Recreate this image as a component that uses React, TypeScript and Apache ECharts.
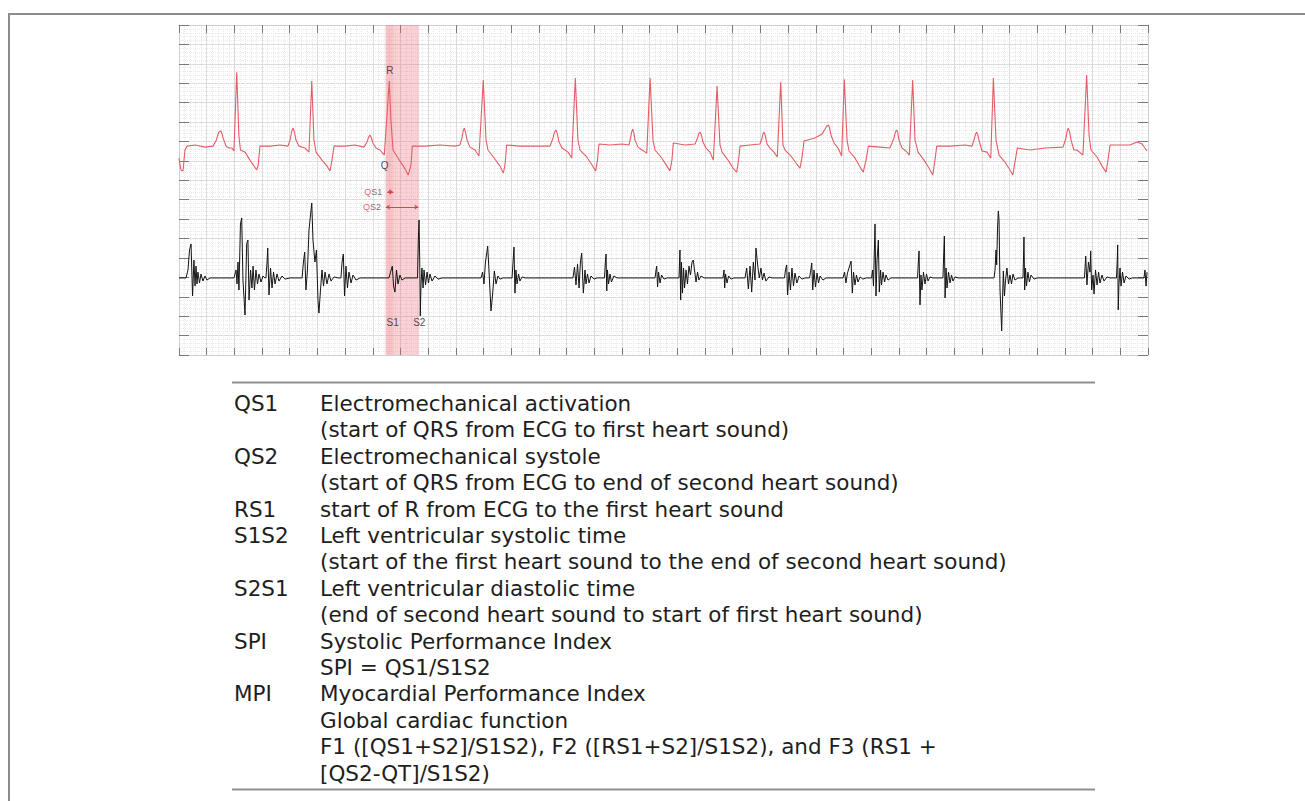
import React, { useEffect, useRef } from "react";
import * as echarts from "echarts";

// ---- chart scale: time in ms (200 ms per major division), amplitude in mm (10 mm per major division)
const X_MAX = 7000;
const X_STEP = 200;
const Y_MAX = 170;
const Y_STEP = 10;

// ---- ECG trace (red), [ms, mm], read beat by beat
const ecgBeats: number[][][] = [
  [[0,101.5],[14,95.3],[29,94.8],[43,105.6],[58,107.6],[116,108.2],[188,107.1],[246,107.6]],
  [[267,110.2],[280,113.3],[289,114.9],[303,115.4],[312,113.8],[318,111.8],[340,107.6],[361,106.6],[383,106.6],[397,105.1],[417,145.7],[433,112.8],[444,105.6],[477,104.5],[513,100.4],[542,97.3],[561,95.3],[571,97.3],[585,107.6],[657,107.6],[730,108.2],[787,107.6]],
  [[802,110.7],[815,115.4],[824,116.9],[834,114.8],[845,110.7],[867,107.6],[910,106.6],[939,104.5],[959,141.1],[975,110.7],[990,104.5],[1033,100.4],[1069,97.3],[1091,94.8],[1105,100.4],[1120,107.6],[1199,107.6],[1271,108.2],[1336,107.1]],
  [[1358,109.7],[1370,112.3],[1380,113.3],[1390,111.8],[1401,109.2],[1423,106.6],[1452,105.6],[1483,103.0],[1519,141.1],[1531,121.0],[1546,105.6],[1582,101.5],[1625,96.8],[1656,92.7],[1676,97.9],[1685,107.6],[1777,107.6],[1885,108.2],[1994,107.6],[2030,108.2]],
  [[2044,111.8],[2053,115.4],[2061,116.9],[2071,114.3],[2081,110.7],[2102,107.1],[2138,105.6],[2167,102.5],[2198,141.6],[2218,110.7],[2232,105.6],[2276,101.5],[2319,97.3],[2343,93.7],[2355,97.9],[2367,108.2],[2463,107.6],[2572,107.6],[2680,107.6]],
  [[2702,111.8],[2713,114.8],[2723,115.9],[2734,113.8],[2745,109.7],[2767,106.6],[2810,104.5],[2837,101.5],[2863,142.7],[2882,110.7],[2897,105.6],[2940,102.5],[2984,97.9],[3010,94.8],[3023,100.4],[3034,108.7],[3114,108.2],[3200,108.7],[3251,108.2]],
  [[3262,111.8],[3270,114.8],[3278,116.4],[3286,114.3],[3294,110.7],[3316,107.1],[3345,105.6],[3379,104.0],[3403,142.7],[3424,110.7],[3439,105.6],[3482,102.0],[3525,97.3],[3547,94.8],[3561,100.4],[3571,109.2],[3655,108.2],[3728,108.7]],
  [[3746,111.8],[3755,114.0],[3764,114.8],[3774,113.3],[3785,109.7],[3807,106.6],[3836,104.5],[3860,100.4],[3887,138.5],[3908,108.2],[3923,104.5],[3966,100.4],[4002,96.3],[4029,94.2],[4042,100.4],[4053,107.6],[4125,108.2],[4197,108.7]],
  [[4212,111.8],[4219,114.0],[4226,114.8],[4236,112.8],[4248,108.7],[4269,106.6],[4298,104.5],[4322,102.0],[4347,140.6],[4363,108.2],[4378,105.6],[4421,102.5],[4457,98.9],[4486,96.3],[4500,101.5],[4515,110.2],[4594,111.8],[4645,113.8]],
  [[4667,116.4],[4680,118.0],[4691,118.5],[4700,116.9],[4710,113.3],[4732,109.2],[4761,106.6],[4787,102.5],[4806,142.1],[4826,110.7],[4840,105.1],[4883,101.5],[4920,96.8],[4943,94.2],[4963,100.4],[4980,107.6],[5064,107.1],[5136,106.6]],
  [[5165,111.8],[5175,114.8],[5185,115.9],[5193,114.3],[5201,110.7],[5223,106.6],[5252,105.1],[5276,103.0],[5300,141.6],[5317,110.7],[5339,104.5],[5382,100.4],[5418,96.3],[5445,92.7],[5461,100.4],[5474,107.6],[5570,107.6],[5678,108.2],[5729,107.6]],
  [[5747,111.8],[5755,114.0],[5763,114.8],[5771,113.3],[5779,110.7],[5801,105.1],[5837,104.5],[5864,101.5],[5883,142.7],[5902,110.7],[5924,103.0],[5967,99.4],[6003,95.3],[6023,92.7],[6039,99.4],[6056,106.6],[6148,105.6],[6256,106.6],[6386,107.1]],
  [[6408,111.8],[6416,115.4],[6424,116.9],[6434,114.8],[6444,110.7],[6465,105.6],[6487,105.6],[6530,103.0],[6557,144.2],[6574,113.3],[6588,105.6],[6632,102.0],[6668,97.3],[6697,94.2],[6711,100.4],[6726,108.2],[6798,108.2],[6870,108.2],[6921,109.7],[6957,108.7],[6993,105.1]],
];

// ---- Phonocardiogram (black), [ms, mm], one list per heart-sound burst
const pcgBursts: number[][][] = [
  [[0,39.7]],
  [[51,39.7],[65,43.8],[76,54.1],[87,57.2],[98,30.4],[108,48.9],[116,35.5],[123,45.8],[130,36.6],[137,42.7],[148,37.1],[159,41.7],[173,38.1],[188,40.7],[202,38.6],[224,39.7]],
  [[397,39.7],[412,43.8],[419,36.6],[426,47.9],[433,33.5],[444,67.5],[453,70.6],[462,38.6],[477,20.6],[489,57.2],[498,59.2],[506,28.3],[517,43.8],[527,34.5],[535,45.8],[545,33.5],[556,43.8],[567,36.6],[578,41.7],[592,37.6],[607,40.7],[621,39.7]],
  [[628,39.7],[636,47.9],[641,55.1],[650,30.9],[661,44.8],[672,34.5],[683,42.7],[694,36.6],[708,41.7],[722,38.1],[744,40.7],[766,39.1],[802,39.7]],
  [[889,39.7],[899,47.9],[908,53.0],[917,33.5],[928,43.8],[939,64.4],[950,72.1],[959,78.3],[968,59.2],[982,47.9],[993,54.1],[1004,28.3],[1011,21.6],[1022,33.5],[1033,43.8],[1044,35.5],[1055,42.7],[1069,36.6],[1084,41.7],[1098,38.1],[1120,40.2],[1149,39.7]],
  [[1170,39.7],[1178,47.9],[1187,52.0],[1196,30.4],[1206,45.8],[1217,34.5],[1228,42.7],[1243,37.1],[1257,41.2],[1279,38.6],[1308,39.7]],
  [[1517,39.7],[1528,42.7],[1541,45.8],[1550,35.5],[1560,32.4],[1571,43.8],[1582,36.6],[1596,41.2],[1611,38.6],[1633,39.7]],
  [[1723,39.7],[1729,59.2],[1734,69.5],[1739,48.9],[1743,20.1],[1748,36.1],[1755,44.8],[1763,34.5],[1770,43.8],[1781,36.1],[1792,42.7],[1802,37.1],[1813,41.7],[1828,38.1],[1849,40.7],[1871,39.1],[1900,39.7]],
  [[2182,39.7],[2193,42.7],[2203,36.6],[2214,47.9],[2230,56.1],[2239,43.8],[2254,22.7],[2265,30.9],[2278,43.3],[2290,36.6],[2304,40.7],[2319,39.1],[2341,39.7]],
  [[2406,39.7],[2413,47.9],[2420,55.6],[2427,31.9],[2434,43.8],[2442,36.6],[2453,41.7],[2463,38.1],[2478,40.2],[2500,39.7]],
  [[2846,39.7],[2857,45.3],[2868,36.1],[2879,46.9],[2890,34.5],[2900,47.9],[2909,52.5],[2921,31.9],[2933,43.8],[2940,36.6],[2951,41.7],[2962,37.1],[2976,40.7],[2998,39.1],[3020,39.7]],
  [[3074,39.7],[3080,47.9],[3085,52.0],[3090,33.0],[3095,43.8],[3103,36.6],[3114,41.7],[3124,37.6],[3142,40.7],[3164,39.7]],
  [[3439,39.7],[3446,43.8],[3451,45.8],[3457,35.0],[3464,42.7],[3475,37.1],[3486,41.2],[3504,39.1],[3525,39.7]],
  [[3612,39.7],[3619,54.1],[3624,28.3],[3630,47.9],[3637,31.9],[3645,44.8],[3652,34.5],[3663,43.8],[3673,36.6],[3684,45.8],[3695,41.2],[3706,47.9],[3715,48.9],[3724,43.8],[3735,37.6],[3746,42.7],[3756,38.6],[3771,40.7],[3793,39.7]],
  [[3930,39.7],[3937,43.8],[3942,34.5],[3948,41.7],[3959,37.1],[3970,40.7],[3988,39.1],[4009,39.7]],
  [[4089,39.7],[4101,44.8],[4113,34.0],[4125,45.8],[4137,32.4],[4149,47.9],[4161,38.6],[4168,55.1],[4181,45.8],[4192,39.7],[4204,44.8],[4215,38.6],[4226,42.2],[4240,38.1],[4262,40.2],[4284,39.7]],
  [[4374,39.7],[4381,43.8],[4390,46.4],[4396,30.9],[4407,42.7],[4417,33.5],[4428,44.8],[4439,35.5],[4450,42.2],[4464,37.1],[4479,40.7],[4500,39.1],[4522,39.7]],
  [[4555,39.7],[4562,42.7],[4571,47.4],[4578,33.5],[4587,43.8],[4598,35.0],[4609,42.2],[4620,37.1],[4631,40.7],[4652,38.6],[4674,39.7]],
  [[4797,39.7],[4808,42.7],[4818,37.1],[4829,42.2],[4840,44.8],[4855,48.4],[4864,31.9],[4873,42.7],[4883,36.1],[4894,41.2],[4905,37.6],[4920,40.2],[4941,39.1],[4963,39.7]],
  [[5003,39.7],[5010,43.8],[5017,35.5],[5028,67.5],[5035,30.4],[5042,47.9],[5052,59.2],[5059,32.4],[5068,43.8],[5075,36.1],[5086,42.7],[5097,37.6],[5107,41.2],[5122,38.6],[5143,39.7]],
  [[5335,39.7],[5341,47.9],[5346,53.6],[5353,25.8],[5360,41.2],[5367,33.5],[5378,42.7],[5389,36.6],[5400,41.7],[5411,38.1],[5425,40.2],[5447,39.7]],
  [[5519,39.7],[5524,51.5],[5529,61.3],[5534,29.4],[5541,44.8],[5548,34.5],[5559,42.7],[5570,37.1],[5581,41.2],[5591,38.1],[5606,40.2],[5628,39.7]],
  [[5888,39.7],[5895,43.8],[5902,54.1],[5907,46.4],[5913,65.4],[5919,74.2],[5924,69.5],[5931,33.5],[5943,12.4],[5949,28.3],[5955,43.3],[5963,30.4],[5971,38.6],[5981,44.8],[5992,36.6],[6003,41.2],[6014,36.6],[6025,41.7],[6039,38.6],[6061,39.7]],
  [[6097,39.7],[6102,54.1],[6104,60.8],[6109,33.5],[6115,44.8],[6122,35.5],[6133,42.7],[6143,37.6],[6155,41.2],[6177,39.1],[6198,39.7]],
  [[6541,39.7],[6550,51.0],[6559,36.1],[6570,47.9],[6581,42.7],[6586,53.6],[6593,33.5],[6603,41.2],[6610,31.4],[6621,43.8],[6632,36.1],[6643,42.7],[6653,37.1],[6668,41.2],[6682,38.1],[6704,40.2],[6726,39.7]],
  [[6772,39.7],[6778,48.9],[6781,56.7],[6785,23.2],[6790,36.1],[6798,44.8],[6805,35.5],[6816,42.7],[6827,37.1],[6841,40.7],[6863,39.1],[6885,39.7]],
  [[6971,39.7],[6978,43.8],[6986,35.5],[6993,42.7]],
];

// ---- highlighted cycle intervals (ms)
const qOnset = 1493;
const s1Onset = 1548;
const s2End = 1734;

// ---- interval arrows: [label, startMs, endMs, level mm]
const intervalArrows: [string, number, number, number][] = [
  ["S1", 1505, 1548, 84.0],
  ["S2", 1495, 1729, 76.2],
];

// ---- point labels: [text, ms, mm]
const pointLabels: [string, number, number][] = [
  ["R", 1524, 146.4],
  ["Q", 1485, 97.7],
  ["S1", 1544, 17.0],
  ["S2", 1736, 17.0],
];

// ---- legend table below the tracing
const tableTerms: string[] = ["QS1", "", "QS2", "", "RS1", "S1S2", "", "S2S1", "", "SPI", "", "MPI", "", "", ""];
const tableTexts: string[] = [
  "Electromechanical activation",
  "(start of QRS from ECG to first heart sound)",
  "Electromechanical systole",
  "(start of QRS from ECG to end of second heart sound)",
  "start of R from ECG to the first heart sound",
  "Left ventricular systolic time",
  "(start of the first heart sound to the end of second heart sound)",
  "Left ventricular diastolic time",
  "(end of second heart sound to start of first heart sound)",
  "Systolic Performance Index",
  "SPI = QS1/S1S2",
  "Myocardial Performance Index",
  "Global cardiac function",
  "F1 ([QS1+S2]/S1S2), F2 ([RS1+S2]/S1S2), and F3 (RS1 +",
  "[QS2-QT]/S1S2)",
];

export default function App() {
  const ref = useRef<HTMLDivElement>(null);

  useEffect(() => {
    if (!ref.current) return;
    const chart = echarts.init(ref.current, undefined, { renderer: "svg" });

    const ecgData = ecgBeats.flat();
    const pcgData = pcgBursts.flat();

    const tickStyle = { color: "#7a7a7a", width: 1 };
    const borderStyle = { color: "#cfcfcf", width: 1 };

    const xBase = {
      type: "value",
      min: 0,
      max: X_MAX,
      interval: X_STEP,
      axisLabel: { show: false },
      axisLine: { show: true, onZero: false, lineStyle: borderStyle },
    };
    const yBase = {
      type: "value",
      min: 0,
      max: Y_MAX,
      interval: Y_STEP,
      axisLabel: { show: false },
      axisLine: { show: true, onZero: false, lineStyle: borderStyle },
    };

    const fontTable = "DejaVu Sans";
    const tableFontSize = 21.5;
    const rowTop = 403.5;
    const rowGap = 26.4;
    const graphic: any[] = [
      { type: "line", shape: { x1: 8, y1: 14, x2: 1305, y2: 14 }, style: { stroke: "#8c8c8c", lineWidth: 2 } },
      { type: "line", shape: { x1: 9, y1: 14, x2: 9, y2: 801 }, style: { stroke: "#8c8c8c", lineWidth: 2 } },
      { type: "line", shape: { x1: 232, y1: 382.5, x2: 1095, y2: 382.5 }, style: { stroke: "#8f8f8f", lineWidth: 2 } },
      { type: "line", shape: { x1: 232, y1: 789.5, x2: 1095, y2: 789.5 }, style: { stroke: "#8f8f8f", lineWidth: 2 } },
    ];
    tableTexts.forEach((t, i) => {
      const y = rowTop + i * rowGap;
      if (tableTerms[i]) {
        graphic.push({
          type: "text",
          style: { text: tableTerms[i], x: 234, y, fontSize: tableFontSize, fontFamily: fontTable, fill: "#1e1e1e", verticalAlign: "middle", align: "left" },
        });
      }
      graphic.push({
        type: "text",
        style: { text: t, x: 320, y, fontSize: tableFontSize, fontFamily: fontTable, fill: "#1e1e1e", verticalAlign: "middle", align: "left" },
      });
    });

    const annotFont = "Liberation Sans";
    const labelData: any[] = pointLabels.map(([t, x, y]) => ({
      value: [x, y],
      label: { show: true, formatter: t, position: "inside", fontSize: 10, color: "#222222", fontFamily: annotFont },
    }));
    intervalArrows.forEach(([t, x0, , y]) => {
      labelData.push({
        value: [x0, y],
        label: {
          show: true,
          position: "left",
          distance: 5,
          formatter: `{q|Q}{s|${t}}`,
          rich: {
            q: { color: "#e0404a", fontSize: 9, fontFamily: annotFont },
            s: { color: "#5a4a4a", fontSize: 9, fontFamily: annotFont },
          },
        },
      });
    });

    const option: any = {
      animation: false,
      backgroundColor: "#ffffff",
      grid: { left: 179, top: 25, width: 969, height: 330, show: false },
      xAxis: [
        {
          ...xBase,
          position: "bottom",
          axisTick: { show: true, inside: true, length: 7, lineStyle: tickStyle },
          splitLine: { show: true, lineStyle: { color: "#dcdcdc", width: 1 } },
          minorTick: { show: false, splitNumber: 5 },
          minorSplitLine: { show: true, lineStyle: { color: "#e9e9e9", width: 1, type: "dotted" } },
        },
        {
          ...xBase,
          position: "top",
          axisTick: { show: true, inside: true, length: 8, lineStyle: tickStyle },
          splitLine: { show: false },
        },
      ],
      yAxis: [
        {
          ...yBase,
          position: "left",
          axisTick: { show: true, inside: true, length: 10, lineStyle: tickStyle },
          splitLine: { show: true, lineStyle: { color: "#dcdcdc", width: 1 } },
          minorTick: { show: false, splitNumber: 5 },
          minorSplitLine: { show: true, lineStyle: { color: "#e9e9e9", width: 1, type: "dotted" } },
        },
        {
          ...yBase,
          position: "right",
          axisTick: { show: true, inside: true, length: 10, lineStyle: tickStyle },
          splitLine: { show: false },
        },
      ],
      series: [
        {
          name: "ECG",
          type: "line",
          data: ecgData,
          showSymbol: false,
          symbol: "none",
          lineStyle: { color: "#e45d66", width: 1.1 },
          z: 3,
          markArea: {
            silent: true,
            data: [
              [{ xAxis: qOnset, itemStyle: { color: "rgba(240,105,115,0.30)" } }, { xAxis: s2End }],
              [{ xAxis: qOnset, itemStyle: { color: "rgba(240,105,115,0.14)" } }, { xAxis: s1Onset }],
            ],
          },
        },
        {
          name: "PCG",
          type: "line",
          data: pcgData,
          showSymbol: false,
          symbol: "none",
          lineStyle: { color: "#141414", width: 1 },
          z: 3,
        },
        {
          name: "labels",
          type: "scatter",
          data: labelData,
          symbolSize: 0,
          z: 5,
          markLine: {
            silent: true,
            symbol: ["arrow", "arrow"],
            symbolSize: 4,
            label: { show: false },
            lineStyle: { color: "#e0404a", width: 1, type: "solid" },
            data: intervalArrows.map(([, a, b, y]) => [{ coord: [a, y] }, { coord: [b, y] }]),
          },
        },
      ],
      graphic,
    };

    chart.setOption(option);
    return () => chart.dispose();
  }, []);

  return <div ref={ref} style={{ position: "absolute", left: 0, top: 0, width: 1305, height: 801 }} />;
}
